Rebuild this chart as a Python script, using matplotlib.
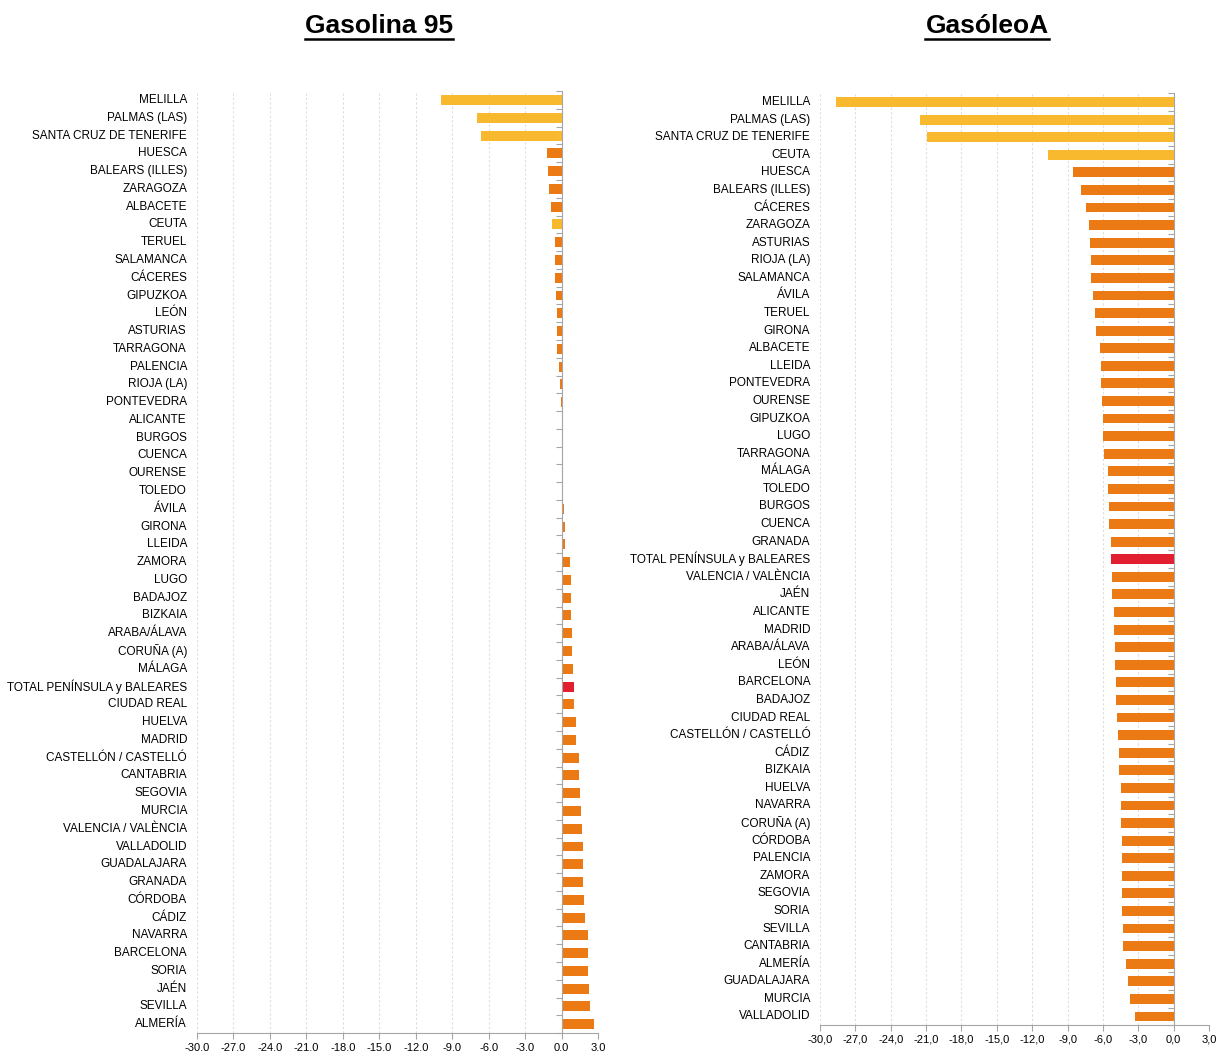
import matplotlib.pyplot as plt
from matplotlib.lines import Line2D

# datos
prov_g95 = ["MELILLA", "PALMAS (LAS)", "SANTA CRUZ DE TENERIFE", "HUESCA", "BALEARS (ILLES)",
            "ZARAGOZA", "ALBACETE", "CEUTA", "TERUEL", "SALAMANCA", "CÁCERES", "GIPUZKOA",
            "LEÓN", "ASTURIAS", "TARRAGONA", "PALENCIA", "RIOJA (LA)", "PONTEVEDRA",
            "ALICANTE", "BURGOS", "CUENCA", "OURENSE", "TOLEDO", "ÁVILA", "GIRONA", "LLEIDA",
            "ZAMORA", "LUGO", "BADAJOZ", "BIZKAIA", "ARABA/ÁLAVA", "CORUÑA (A)", "MÁLAGA",
            "TOTAL PENÍNSULA y BALEARES", "CIUDAD REAL", "HUELVA", "MADRID",
            "CASTELLÓN / CASTELLÓ", "CANTABRIA", "SEGOVIA", "MURCIA", "VALENCIA / VALÈNCIA",
            "VALLADOLID", "GUADALAJARA", "GRANADA", "CÓRDOBA", "CÁDIZ", "NAVARRA",
            "BARCELONA", "SORIA", "JAÉN", "SEVILLA", "ALMERÍA"]
val_g95 = [-9.9, -7.0, -6.6, -1.2, -1.1, -1.0, -0.9, -0.8, -0.55, -0.55, -0.55, -0.5,
           -0.4, -0.4, -0.4, -0.25, -0.15, -0.05, 0.0, 0.05, 0.1, 0.15, 0.15, 0.2, 0.25, 0.3,
           0.7, 0.8, 0.8, 0.8, 0.85, 0.85, 0.9, 1.0, 1.0, 1.2, 1.2, 1.4, 1.4, 1.5, 1.6,
           1.65, 1.75, 1.8, 1.8, 1.85, 1.9, 2.15, 2.15, 2.2, 2.25, 2.35, 2.7]

prov_goa = ["MELILLA", "PALMAS (LAS)", "SANTA CRUZ DE TENERIFE", "CEUTA", "HUESCA",
            "BALEARS (ILLES)", "CÁCERES", "ZARAGOZA", "ASTURIAS", "RIOJA (LA)", "SALAMANCA",
            "ÁVILA", "TERUEL", "GIRONA", "ALBACETE", "LLEIDA", "PONTEVEDRA", "OURENSE",
            "GIPUZKOA", "LUGO", "TARRAGONA", "MÁLAGA", "TOLEDO", "BURGOS", "CUENCA",
            "GRANADA", "TOTAL PENÍNSULA y BALEARES", "VALENCIA / VALÈNCIA", "JAÉN",
            "ALICANTE", "MADRID", "ARABA/ÁLAVA", "LEÓN", "BARCELONA", "BADAJOZ",
            "CIUDAD REAL", "CASTELLÓN / CASTELLÓ", "CÁDIZ", "BIZKAIA", "HUELVA", "NAVARRA",
            "CORUÑA (A)", "CÓRDOBA", "PALENCIA", "ZAMORA", "SEGOVIA", "SORIA", "SEVILLA",
            "CANTABRIA", "ALMERÍA", "GUADALAJARA", "MURCIA", "VALLADOLID"]
val_goa = [-28.6, -21.5, -20.9, -10.7, -8.5, -7.9, -7.4, -7.2, -7.1, -7.0, -7.0, -6.8,
           -6.7, -6.6, -6.25, -6.15, -6.15, -6.1, -6.0, -6.0, -5.9, -5.6, -5.55, -5.5,
           -5.45, -5.35, -5.3, -5.2, -5.2, -5.1, -5.05, -5.0, -4.95, -4.9, -4.85, -4.8,
           -4.7, -4.65, -4.6, -4.5, -4.45, -4.45, -4.4, -4.4, -4.35, -4.35, -4.35, -4.3,
           -4.3, -4.0, -3.9, -3.7, -3.3]

islas = ["MELILLA", "PALMAS (LAS)", "SANTA CRUZ DE TENERIFE", "CEUTA"]
xticks = [-30, -27, -24, -21, -18, -15, -12, -9, -6, -3, 0, 3]

AMARILLO = "#F8B92E"
NARANJA = "#EC7A14"
ROJO = "#E11F2E"
GRIS = "#A6A6A6"

plt.rcParams['font.family'] = ['Liberation Sans', 'DejaVu Sans']

fig = plt.figure(figsize=(12.2, 10.51), dpi=100)
ax1 = fig.add_axes([0.1615, 0.0170, 0.3287, 0.8963])
ax2 = fig.add_axes([0.6721, 0.0245, 0.3189, 0.8868])


def color_de(p):
    if p.startswith("TOTAL"):
        return ROJO
    if p in islas:
        return AMARILLO
    return NARANJA


def panel(ax, provs, vals, titulo):
    n = len(provs)
    ys = list(range(n))
    ax.barh(ys, vals, height=0.56, color=[color_de(p) for p in provs], zorder=3)
    ax.set_ylim(n - 0.5, -0.5)
    ax.set_xlim(-30, 3)
    ax.set_xticks(xticks)
    ax.set_xticklabels([f"{t:.1f}".replace(".", ",") for t in xticks], fontsize=8)
    ax.xaxis.grid(True, color="#DDDDDD", linestyle=(0, (2, 2)), linewidth=0.8, zorder=0)
    for s in ["top", "right"]:
        ax.spines[s].set_visible(False)
    ax.spines["bottom"].set_color(GRIS)
    ax.spines["left"].set_color(GRIS)
    ax.spines["left"].set_position(("data", 0))
    ax.spines["left"].set_zorder(4)
    ax.tick_params(axis="x", colors=GRIS, length=4, labelcolor="black", pad=3)
    # ticks entre categorias sobre el eje en 0
    ax.set_yticks([i - 0.5 for i in range(n + 1)])
    ax.set_yticklabels([])
    ax.tick_params(axis="y", colors=GRIS, length=4, direction="out")
    tr = ax.get_yaxis_transform()
    for i, p in enumerate(provs):
        ax.text(-0.025, i, p, transform=tr, ha="right", va="center", fontsize=8.5)
    t = fig.text(0, 0, titulo, fontsize=19, fontweight="bold", ha="center", va="baseline")
    return t


t1 = panel(ax1, prov_g95, val_g95, "Gasolina 95")
t2 = panel(ax2, prov_goa, val_goa, "GasóleoA")
t1.set_position((379 / 1220, 1 - 33 / 1051))
t2.set_position((987 / 1220, 1 - 33 / 1051))

# subrayado de los titulos
fig.canvas.draw()
r = fig.canvas.get_renderer()
for t in (t1, t2):
    bb = t.get_window_extent(r).transformed(fig.transFigure.inverted())
    yl = bb.y0 - 0.001
    fig.add_artist(Line2D([bb.x0, bb.x1], [yl, yl], color="black", linewidth=1.8,
                          transform=fig.transFigure))

fig.savefig("out.png", dpi=100)
